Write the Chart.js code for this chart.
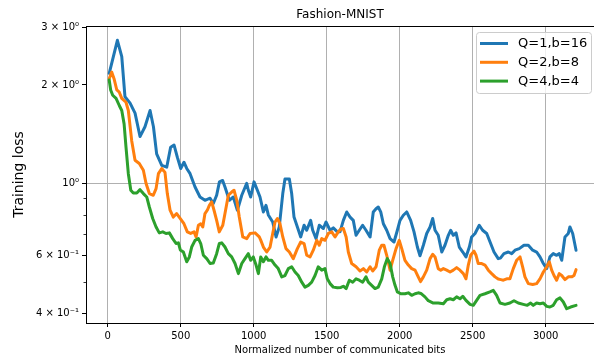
<!DOCTYPE html>
<html>
<head>
<meta charset="utf-8">
<script src="https://cdn.jsdelivr.net/npm/chart.js@4/dist/chart.umd.min.js"></script>
<style>
  html, body { margin: 0; padding: 0; background: #fff; overflow: hidden; }
  #wrap { width: 594px; height: 360px; }
</style>
</head>
<body>
<div id="wrap"><canvas id="c" width="594" height="360"></canvas></div>
<script>
// Training loss versus normalized communicated bits, three quantization settings.
const chartTitle = 'Fashion-MNIST';
const seriesNames = ['Q=1,b=16', 'Q=2,b=8', 'Q=4,b=4'];
const seriesColors = ['#1f77b4', '#ff7f0e', '#2ca02c'];

const bitsQ1 = [10,66,96,118,153,187,221,255,290,313,335,370,404,431,454,477,500,522,541,564,598,632,666,701,723,746,765,787,803,833,860,888,918,952,963,979,1002,1025,1043,1066,1084,1100,1130,1153,1175,1199,1214,1244,1260,1276,1299,1322,1345,1363,1390,1404,1427,1449,1477,1495,1523,1545,1573,1591,1614,1637,1660,1682,1701,1723,1746,1769,1797,1819,1838,1853,1870,1888,1911,1934,1961,1984,2002,2025,2048,2075,2098,2121,2139,2162,2185,2208,2226,2242,2264,2288,2310,2333,2349,2367,2386,2408,2432,2454,2477,2493,2516,2545,2568,2596,2623,2646,2675,2690,2714,2744,2767,2790,2819,2851,2881,2911,2938,2961,2984,3007,3029,3052,3075,3093,3110,3132,3155,3166,3185,3208];
const lossQ1 = [2.17,2.74,2.44,1.84,1.76,1.64,1.39,1.49,1.67,1.49,1.23,1.135,1.12,1.29,1.31,1.20,1.11,1.16,1.11,1.07,0.974,0.908,0.887,0.90,0.867,0.919,1.01,1.02,0.974,0.887,0.908,0.827,0.919,1.0,0.952,0.908,1.01,0.952,0.908,0.817,0.856,0.80,0.761,0.685,0.735,0.93,1.03,1.03,0.93,0.788,0.735,0.685,0.744,0.718,0.770,0.718,0.677,0.744,0.727,0.761,0.718,0.73,0.71,0.71,0.770,0.817,0.788,0.770,0.693,0.718,0.744,0.718,0.685,0.817,0.836,0.846,0.817,0.752,0.718,0.677,0.661,0.718,0.770,0.798,0.817,0.770,0.71,0.638,0.60,0.646,0.702,0.735,0.78,0.718,0.693,0.616,0.646,0.693,0.718,0.693,0.705,0.638,0.616,0.595,0.638,0.685,0.702,0.744,0.718,0.702,0.654,0.616,0.588,0.59,0.609,0.616,0.609,0.624,0.631,0.646,0.646,0.624,0.616,0.595,0.568,0.548,0.595,0.609,0.602,0.609,0.581,0.685,0.702,0.735,0.702,0.624];

const bitsQ2 = [10,27,43,62,79,96,125,141,164,187,216,244,262,285,312,331,347,370,392,408,427,449,472,497,522,545,568,591,605,621,637,651,666,682,696,712,728,746,764,788,803,826,849,865,884,901,925,952,975,1009,1038,1048,1066,1089,1112,1130,1146,1162,1180,1199,1221,1244,1271,1299,1322,1345,1363,1386,1408,1432,1449,1466,1488,1511,1534,1557,1579,1597,1614,1633,1648,1671,1701,1728,1751,1774,1797,1815,1838,1860,1877,1892,1911,1934,1952,1975,1997,2014,2036,2059,2082,2105,2127,2143,2162,2185,2208,2226,2242,2264,2281,2299,2322,2345,2367,2390,2413,2436,2454,2470,2486,2509,2523,2538,2562,2584,2607,2630,2653,2675,2693,2710,2733,2755,2778,2801,2824,2842,2858,2881,2911,2938,2961,2984,3007,3025,3041,3057,3075,3093,3110,3132,3155,3178,3194,3208];
const lossQ2 = [2.09,2.19,2.09,1.93,1.90,1.82,1.77,1.67,1.35,1.176,1.15,1.096,1.0,0.93,0.919,0.963,1.07,1.11,1.08,0.93,0.827,0.788,0.808,0.78,0.752,0.71,0.702,0.71,0.685,0.744,0.752,0.735,0.808,0.827,0.856,0.877,0.827,0.770,0.71,0.744,0.808,0.919,0.94,0.952,0.887,0.788,0.685,0.677,0.702,0.705,0.685,0.67,0.638,0.616,0.638,0.702,0.761,0.78,0.752,0.685,0.631,0.616,0.588,0.631,0.661,0.654,0.602,0.595,0.624,0.669,0.646,0.677,0.669,0.702,0.71,0.685,0.71,0.725,0.727,0.685,0.616,0.568,0.555,0.539,0.548,0.535,0.555,0.539,0.555,0.624,0.646,0.646,0.602,0.542,0.581,0.631,0.669,0.631,0.581,0.562,0.548,0.542,0.517,0.50,0.517,0.542,0.588,0.606,0.595,0.548,0.542,0.548,0.542,0.535,0.542,0.552,0.542,0.529,0.51,0.562,0.602,0.62,0.602,0.568,0.568,0.562,0.542,0.529,0.517,0.509,0.507,0.505,0.51,0.51,0.548,0.581,0.595,0.555,0.517,0.493,0.49,0.493,0.51,0.535,0.555,0.575,0.542,0.522,0.505,0.529,0.522,0.507,0.517,0.517,0.522,0.544];

const bitsQ4 = [10,20,34,57,79,96,112,125,141,158,175,199,221,244,267,285,308,331,353,377,399,422,445,468,484,497,518,541,559,575,598,621,637,655,678,701,723,746,764,781,803,826,849,872,895,918,940,963,979,997,1016,1032,1048,1066,1084,1100,1123,1146,1168,1192,1214,1237,1260,1283,1305,1329,1351,1374,1397,1420,1442,1466,1488,1504,1523,1545,1573,1597,1614,1633,1655,1678,1701,1723,1746,1769,1785,1808,1831,1853,1877,1895,1915,1934,1952,1968,1984,2007,2036,2059,2082,2105,2127,2145,2173,2196,2230,2264,2299,2322,2345,2367,2390,2413,2432,2454,2482,2504,2527,2550,2584,2618,2641,2664,2687,2721,2755,2783,2812,2847,2874,2897,2915,2938,2961,2984,3007,3029,3052,3075,3098,3121,3144,3171,3208];
const lossQ4 = [2.07,1.93,1.86,1.82,1.73,1.67,1.52,1.29,1.07,0.952,0.934,0.934,0.956,0.93,0.908,0.846,0.78,0.735,0.705,0.71,0.702,0.705,0.677,0.654,0.657,0.625,0.616,0.575,0.595,0.638,0.669,0.677,0.654,0.602,0.588,0.568,0.57,0.609,0.654,0.657,0.638,0.609,0.595,0.568,0.529,0.568,0.588,0.609,0.581,0.595,0.562,0.529,0.595,0.575,0.595,0.581,0.581,0.562,0.548,0.517,0.522,0.548,0.555,0.535,0.522,0.498,0.481,0.487,0.498,0.522,0.555,0.542,0.548,0.51,0.493,0.481,0.479,0.48,0.484,0.476,0.505,0.498,0.51,0.505,0.498,0.517,0.498,0.487,0.476,0.481,0.51,0.555,0.588,0.568,0.517,0.487,0.465,0.459,0.459,0.462,0.454,0.459,0.462,0.46,0.449,0.437,0.43,0.43,0.428,0.44,0.443,0.44,0.449,0.443,0.451,0.438,0.426,0.423,0.438,0.454,0.459,0.465,0.47,0.454,0.43,0.426,0.43,0.437,0.43,0.426,0.423,0.43,0.423,0.43,0.428,0.43,0.42,0.418,0.423,0.44,0.446,0.433,0.413,0.418,0.423];

const xTickValues = [0, 500, 1000, 1500, 2000, 2500, 3000];
const yMajorTicks = [0.4, 0.6, 1, 2, 3];
const yTickLabels = ['4 × 10⁻¹', '6 × 10⁻¹', '10⁰', '2 × 10⁰', '3 × 10⁰'];
const yMinorTicks = [0.5, 0.7, 0.8, 0.9];

const FONT = 'DejaVu Sans';
const toPoints = (xs, ys) => xs.map((x, i) => ({ x: x, y: ys[i] }));

const seriesData = [toPoints(bitsQ1, lossQ1), toPoints(bitsQ2, lossQ2), toPoints(bitsQ4, lossQ4)];

// Top spine, short minor ticks, centered title and the framed legend.
const decorations = {
  id: 'decorations',
  afterDraw(chart) {
    const { ctx, chartArea: a } = chart;
    const yScale = chart.scales.y;
    ctx.save();
    ctx.strokeStyle = '#000';
    ctx.lineWidth = 1;
    ctx.beginPath();
    ctx.moveTo(a.left, a.top + 0.5);
    ctx.lineTo(a.right, a.top + 0.5);
    ctx.stroke();

    // minor log ticks on the y axis
    ctx.lineWidth = 0.8;
    yMinorTicks.forEach(v => {
      const py = Math.round(yScale.getPixelForValue(v)) + 0.5;
      ctx.beginPath();
      ctx.moveTo(a.left - 2.5, py);
      ctx.lineTo(a.left, py);
      ctx.stroke();
    });

    ctx.fillStyle = '#000';
    ctx.font = '12px "' + FONT + '"';
    ctx.textAlign = 'center';
    ctx.textBaseline = 'middle';
    ctx.fillText(chartTitle, (a.left + a.right) / 2, 15);

    // legend box
    const bx = 476.5, by = 32.5, bw = 115, bh = 61, r = 3;
    ctx.beginPath();
    ctx.moveTo(bx + r, by);
    ctx.lineTo(bx + bw - r, by);
    ctx.arcTo(bx + bw, by, bx + bw, by + r, r);
    ctx.lineTo(bx + bw, by + bh - r);
    ctx.arcTo(bx + bw, by + bh, bx + bw - r, by + bh, r);
    ctx.lineTo(bx + r, by + bh);
    ctx.arcTo(bx, by + bh, bx, by + bh - r, r);
    ctx.lineTo(bx, by + r);
    ctx.arcTo(bx, by, bx + r, by, r);
    ctx.closePath();
    ctx.fillStyle = 'rgba(255,255,255,0.8)';
    ctx.fill();
    ctx.strokeStyle = '#cccccc';
    ctx.lineWidth = 1;
    ctx.stroke();

    ctx.font = '13px "' + FONT + '"';
    ctx.textAlign = 'left';
    chart.data.datasets.forEach((ds, i) => {
      const y = 43.5 + i * 18.8;
      ctx.strokeStyle = ds.borderColor;
      ctx.lineWidth = 3;
      ctx.beginPath();
      ctx.moveTo(480, y);
      ctx.lineTo(508, y);
      ctx.stroke();
      ctx.fillStyle = '#000';
      ctx.fillText(ds.label, 518, y + 0.5);
    });
    ctx.restore();
  }
};

new Chart(document.getElementById('c'), {
  type: 'line',
  data: {
    datasets: seriesNames.map((name, i) => ({
      label: name,
      data: seriesData[i],
      borderColor: seriesColors[i],
      backgroundColor: seriesColors[i],
      order: 2 - i
    }))
  },
  options: {
    responsive: false,
    animation: false,
    devicePixelRatio: 1,
    layout: { padding: { top: 26, right: 0, bottom: 0, left: 0 } },
    elements: {
      point: { radius: 0 },
      line: { borderWidth: 3, tension: 0, borderJoinStyle: 'round', borderCapStyle: 'round' }
    },
    plugins: {
      legend: { display: false },
      tooltip: { enabled: false },
      title: { display: false }
    },
    scales: {
      x: {
        type: 'linear',
        min: -149,
        max: 3331,
        afterBuildTicks: s => { s.ticks = xTickValues.map(v => ({ value: v })); },
        afterFit: s => { s.height = 37; },
        ticks: {
          color: '#000',
          font: { family: FONT, size: 10 },
          padding: 3,
          maxRotation: 0,
          autoSkip: false,
          callback: v => String(v)
        },
        grid: { color: '#b0b0b0', lineWidth: 1, tickColor: '#000', tickLength: 4 },
        border: { color: '#000', width: 1 },
        title: {
          display: true,
          text: 'Normalized number of communicated bits',
          color: '#000',
          font: { family: FONT, size: 10 },
          padding: { top: 0, bottom: 4 }
        }
      },
      y: {
        type: 'logarithmic',
        min: 0.3735,
        max: 3.03,
        afterBuildTicks: s => { s.ticks = yMajorTicks.map(v => ({ value: v })); },
        afterFit: s => { s.width = 86; },
        ticks: {
          color: '#000',
          font: { family: FONT, size: 10 },
          padding: 3,
          autoSkip: false,
          callback: v => {
            const i = yMajorTicks.indexOf(v);
            return i >= 0 ? yTickLabels[i] : '';
          }
        },
        grid: {
          color: ctx => (ctx.tick && ctx.tick.value === 1 ? '#b0b0b0' : 'rgba(0,0,0,0)'),
          lineWidth: 1,
          tickColor: '#000',
          tickLength: 4
        },
        border: { color: '#000', width: 1 },
        title: {
          display: true,
          text: 'Training loss',
          color: '#000',
          font: { family: FONT, size: 14 },
          padding: { top: 11, bottom: 0 }
        }
      }
    }
  },
  plugins: [decorations]
});
</script>
</body>
</html>
